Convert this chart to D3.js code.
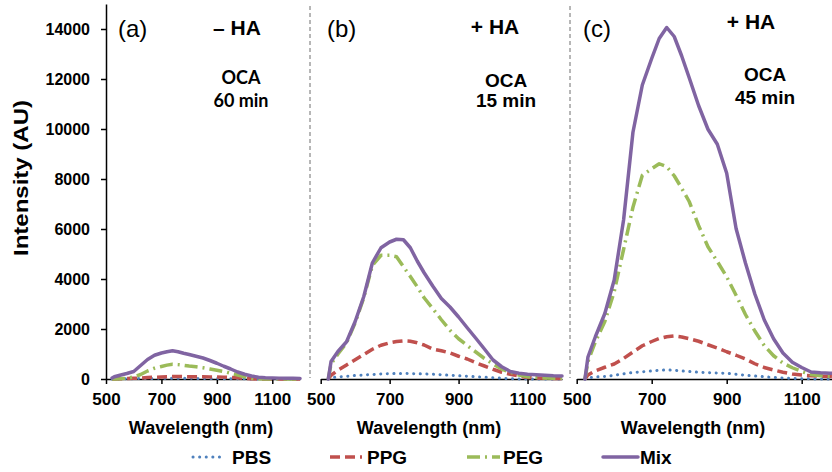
<!DOCTYPE html>
<html>
<head>
<meta charset="utf-8">
<script src="https://cdn.jsdelivr.net/npm/d3@7"></script>
<style>
  body { margin: 0; background: #fff; }
  text { font-family: Arial, "Liberation Sans", sans-serif; fill: #000; }
</style>
</head>
<body>
<svg id="chart" width="832" height="472"></svg>
<script>
// wavelength grid (nm) shared by every curve
const wavelengths = [522, 530, 550, 575, 600, 625, 650, 675, 700, 720, 740, 760, 780, 800, 825, 850, 875, 900, 925, 950, 975, 1000, 1025, 1050, 1075, 1100, 1125, 1150, 1175, 1200]

// (a) - HA, OCA 60 min
const aPBS = [0, 0, 5, 10, 15, 20, 25, 25, 30, 30, 30, 30, 30, 30, 25, 25, 20, 20, 15, 15, 10, 5, 0, 0, 0, 0, 0, 0, 0, 0]
const aPPG = [0, 0, 10, 20, 30, 40, 60, 70, 80, 90, 100, 100, 95, 95, 90, 90, 85, 80, 75, 65, 50, 25, 10, 0, 0, 0, 0, 0, 0, 0]
const aPEG = [0, 0, 10, 30, 80, 180, 320, 430, 500, 555, 590, 575, 550, 520, 490, 450, 400, 350, 300, 230, 160, 90, 30, 10, 0, 0, 0, 0, 0, 0]
const aMix = [40, 90, 150, 220, 300, 540, 780, 950, 1040, 1090, 1130, 1090, 1030, 980, 910, 840, 740, 630, 510, 400, 280, 190, 120, 70, 50, 40, 35, 30, 30, 25]

// (b) + HA, OCA 15 min
const bPBS = [0, 50, 80, 110, 140, 160, 180, 200, 210, 220, 220, 215, 210, 200, 190, 170, 150, 130, 110, 90, 70, 50, 30, 15, 5, 0, 0, 0, 0, 0]
const bPPG = [0, 150, 350, 560, 770, 980, 1190, 1350, 1450, 1500, 1525, 1510, 1450, 1360, 1200, 1130, 1040, 910, 800, 650, 520, 390, 270, 190, 120, 60, 40, 30, 20, 20]
const bPEG = [0, 600, 1000, 1450, 2250, 3250, 4550, 4950, 4950, 4890, 4490, 4100, 3690, 3250, 2820, 2370, 1950, 1610, 1340, 1080, 820, 600, 400, 270, 160, 90, 60, 40, 30, 30]
const bMix = [0, 700, 1100, 1490, 2300, 3300, 4650, 5250, 5480, 5590, 5570, 5250, 4720, 4250, 3720, 3220, 2880, 2480, 2050, 1630, 1200, 760, 490, 300, 230, 190, 170, 150, 130, 120]

// (c) + HA, OCA 45 min
const cPBS = [0, 50, 80, 100, 150, 210, 260, 290, 320, 350, 360, 350, 320, 300, 270, 250, 240, 230, 190, 150, 120, 90, 60, 40, 20, 10, 5, 0, 0, 0]
const cPPG = [0, 160, 330, 470, 600, 820, 1080, 1330, 1500, 1620, 1690, 1720, 1680, 1610, 1510, 1370, 1240, 1090, 950, 800, 610, 460, 360, 270, 200, 160, 130, 110, 100, 90]
const cPEG = [0, 700, 1500, 2300, 3490, 5180, 6870, 8150, 8410, 8610, 8490, 8130, 7630, 7100, 6140, 5290, 4700, 4090, 3350, 2580, 1920, 1340, 930, 640, 450, 300, 180, 130, 110, 100]
const cMix = [0, 880, 1700, 2620, 3960, 6360, 9870, 11760, 12820, 13620, 14060, 13700, 12920, 12050, 10940, 9990, 9390, 8230, 6020, 4640, 3400, 2370, 1610, 1040, 670, 460, 280, 250, 230, 220]

const xTicks = [500, 700, 900, 1100]
const yTicks = [0, 2000, 4000, 6000, 8000, 10000, 12000, 14000]
const seriesNames = ['PBS', 'PPG', 'PEG', 'Mix']

/* CONFIG */
const styles = {
  PBS: { color: '#4F81BD', width: 3, dash: '0.1 6.5', cap: 'round' },
  PPG: { color: '#C0504D', width: 3.5, dash: '10 5', cap: 'butt' },
  PEG: { color: '#9BBB59', width: 3.5, dash: '13 5 2 5', cap: 'butt' },
  Mix: { color: '#8064A2', width: 3.5, dash: null, cap: 'round' }
}

const panels = [
  { tag: '(a)', ha: '\u2013 HA', oca: ['OCA', '60 min'], data: [aPBS, aPPG, aPEG, aMix],
    range: [106, 300], tagX: 118, haX: 237, haY: 35, ocaX: 241, ocaY: [84, 107], ocaFont: 'Lato, "Open Sans", sans-serif', ocaSize: 18, xLabel: 201 },
  { tag: '(b)', ha: '+ HA', oca: ['OCA', '15 min'], data: [bPBS, bPPG, bPEG, bMix],
    range: [320.7, 562], tagX: 327, haX: 495, haY: 34, ocaX: 506, ocaY: [87, 107], ocaFont: null, ocaSize: 19, xLabel: 429 },
  { tag: '(c)', ha: '+ HA', oca: ['OCA', '45 min'], data: [cPBS, cPPG, cPEG, cMix],
    range: [576.7, 839.2], tagX: 583, haX: 751, haY: 29, ocaX: 765, ocaY: [81, 104], ocaFont: null, ocaSize: 19, xLabel: 693 }
]

const svg = d3.select('#chart')
const y = d3.scaleLinear().domain([0, 15000]).range([379, 4])

// panel separators
svg.selectAll('line.sep')
  .data([310, 570])
  .enter().append('line')
  .attr('class', 'sep')
  .attr('x1', d => d).attr('x2', d => d)
  .attr('y1', 6).attr('y2', 378)
  .attr('stroke', '#6f6f6f')
  .attr('stroke-width', 1)
  .attr('stroke-dasharray', '4 3')

// y axis, only on the first panel
const yAxis = svg.append('g')
  .attr('transform', 'translate(106,0)')
  .call(d3.axisLeft(y).tickValues(yTicks).tickSize(5).tickSizeOuter(0).tickPadding(11).tickFormat(d3.format('d')))
yAxis.select('.domain').attr('stroke', '#000').attr('stroke-width', 1.5)
yAxis.selectAll('.tick line').attr('stroke', '#000').attr('stroke-width', 1.5)
yAxis.selectAll('.tick text')
  .attr('font-size', 16).attr('font-weight', 'bold')
  .style('font-family', 'Arial, "Liberation Sans", sans-serif')

svg.append('text')
  .attr('transform', 'translate(28,178) rotate(-90)')
  .attr('text-anchor', 'middle')
  .attr('font-size', 21)
  .attr('font-weight', 'bold')
  .attr('textLength', 156)
  .attr('lengthAdjust', 'spacingAndGlyphs')
  .text('Intensity (AU)')

panels.forEach(p => {
  const x = d3.scaleLinear().domain([500, 1200]).range(p.range)
  const g = svg.append('g')

  const xAxis = g.append('g')
    .attr('transform', `translate(0,${y(0)})`)
    .call(d3.axisBottom(x).tickValues(xTicks).tickSize(5).tickSizeOuter(0).tickPadding(9).tickFormat(d3.format('d')))
  xAxis.select('.domain').attr('stroke', '#000').attr('stroke-width', 1.5)
  xAxis.selectAll('.tick line').attr('stroke', '#000').attr('stroke-width', 1.5)
  xAxis.selectAll('.tick text')
    .attr('font-size', 17).attr('font-weight', 'bold')
    .style('font-family', 'Arial, "Liberation Sans", sans-serif')

  const line = d3.line()
    .x((d, i) => x(wavelengths[i]))
    .y(d => y(d))

  seriesNames.forEach((name, k) => {
    const s = styles[name]
    g.append('path')
      .datum(p.data[k])
      .attr('d', line)
      .attr('fill', 'none')
      .attr('stroke', s.color)
      .attr('stroke-width', s.width)
      .attr('stroke-dasharray', s.dash)
      .attr('stroke-linecap', s.cap)
      .attr('stroke-linejoin', 'round')
  })

  g.append('text')
    .attr('x', p.tagX).attr('y', 37)
    .attr('font-size', 24)
    .text(p.tag)

  g.append('text')
    .attr('x', p.haX).attr('y', p.haY)
    .attr('text-anchor', 'middle')
    .attr('font-size', 21).attr('font-weight', 'bold')
    .text(p.ha)

  p.oca.forEach((t, i) => {
    const el = g.append('text')
      .attr('x', p.ocaX).attr('y', p.ocaY[i])
      .attr('text-anchor', 'middle')
      .attr('font-size', p.ocaSize).attr('font-weight', 'bold')
      .text(t)
    if (p.ocaFont) el.style('font-family', p.ocaFont)
  })

  g.append('text')
    .attr('x', p.xLabel).attr('y', 434)
    .attr('text-anchor', 'middle')
    .attr('font-size', 18).attr('font-weight', 'bold')
    .text('Wavelength (nm)')
})

// legend
const legendPos = [
  { x1: 193, x2: 223, tx: 232 },
  { x1: 330, x2: 362, tx: 367 },
  { x1: 467, x2: 500, tx: 503 },
  { x1: 603, x2: 638, tx: 640 }
]
const legend = svg.append('g').attr('transform', 'translate(0,457)')
seriesNames.forEach((name, k) => {
  const s = styles[name]
  const pos = legendPos[k]
  legend.append('line')
    .attr('x1', pos.x1).attr('x2', pos.x2)
    .attr('y1', 0).attr('y2', 0)
    .attr('stroke', s.color)
    .attr('stroke-width', s.width)
    .attr('stroke-dasharray', s.dash)
    .attr('stroke-linecap', s.cap)
  legend.append('text')
    .attr('x', pos.tx).attr('y', 7)
    .attr('font-size', 19).attr('font-weight', 'bold')
    .text(name)
})
</script>
</body>
</html>
